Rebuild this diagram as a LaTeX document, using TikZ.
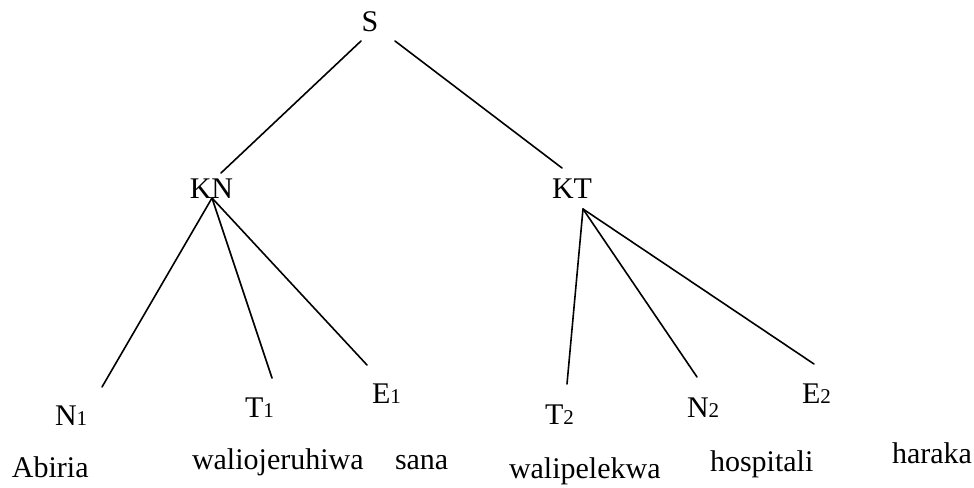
\documentclass[tikz,border=0pt]{standalone}
\usepackage{fontspec}
\setmainfont{Liberation Serif}
\newcommand{\subsc}[1]{{\fontsize{21}{21}\selectfont #1}}
\begin{document}
\begin{tikzpicture}[x=1pt,y=-1pt,
  lbl/.style={inner sep=0pt,outer sep=0pt,font=\fontsize{30}{36}\selectfont},
  edge/.style={line width=1.6pt,line cap=round}]
\useasboundingbox[fill=white] (0,0) rectangle (974,487);
% top levels
\node[lbl,anchor=base] (S) at (370,32) {S};
\node[lbl,anchor=base] (KN) at (211.5,198) {KN};
\node[lbl,anchor=base] (KT) at (572,198) {KT};
% categories
\node[lbl,anchor=base west] (N1) at (55,425) {N\subsc{1}};
\node[lbl,anchor=base west] (T1) at (245,417) {T\subsc{1}};
\node[lbl,anchor=base west] (E1) at (372,403) {E\subsc{1}};
\node[lbl,anchor=base west] (T2) at (545,424) {T\subsc{2}};
\node[lbl,anchor=base west] (N2) at (687,417) {N\subsc{2}};
\node[lbl,anchor=base west] (E2) at (802,403) {E\subsc{2}};
% words
\node[lbl,anchor=base west] (w1) at (12,477) {Abiria};
\node[lbl,anchor=base west] (w2) at (192,469) {waliojeruhiwa};
\node[lbl,anchor=base west] (w3) at (395,469) {sana};
\node[lbl,anchor=base west] (w4) at (509,478) {walipelekwa};
\node[lbl,anchor=base west] (w5) at (710,471) {hospitali};
\node[lbl,anchor=base west] (w6) at (892,463) {haraka};
% edges
\draw[edge] ([shift={(-9,9)}]S.base) -- ([shift={(9.5,-25)}]KN.base);
\draw[edge] ([shift={(25,9)}]S.base) -- ([shift={(-10,-30)}]KT.base);
\draw[edge] ([shift={(0.5,0)}]KN.base) -- ([shift={(47,-38)}]N1.base west);
\draw[edge] ([shift={(0.5,0)}]KN.base) -- ([shift={(27,-39)}]T1.base west);
\draw[edge] ([shift={(0.5,0)}]KN.base) -- ([shift={(-5,-38)}]E1.base west);
\draw[edge] ([shift={(11,11)}]KT.base) -- ([shift={(22,-40)}]T2.base west);
\draw[edge] ([shift={(11,11)}]KT.base) -- ([shift={(10,-40)}]N2.base west);
\draw[edge] ([shift={(11,11)}]KT.base) -- ([shift={(12,-39)}]E2.base west);
\end{tikzpicture}
\end{document}
